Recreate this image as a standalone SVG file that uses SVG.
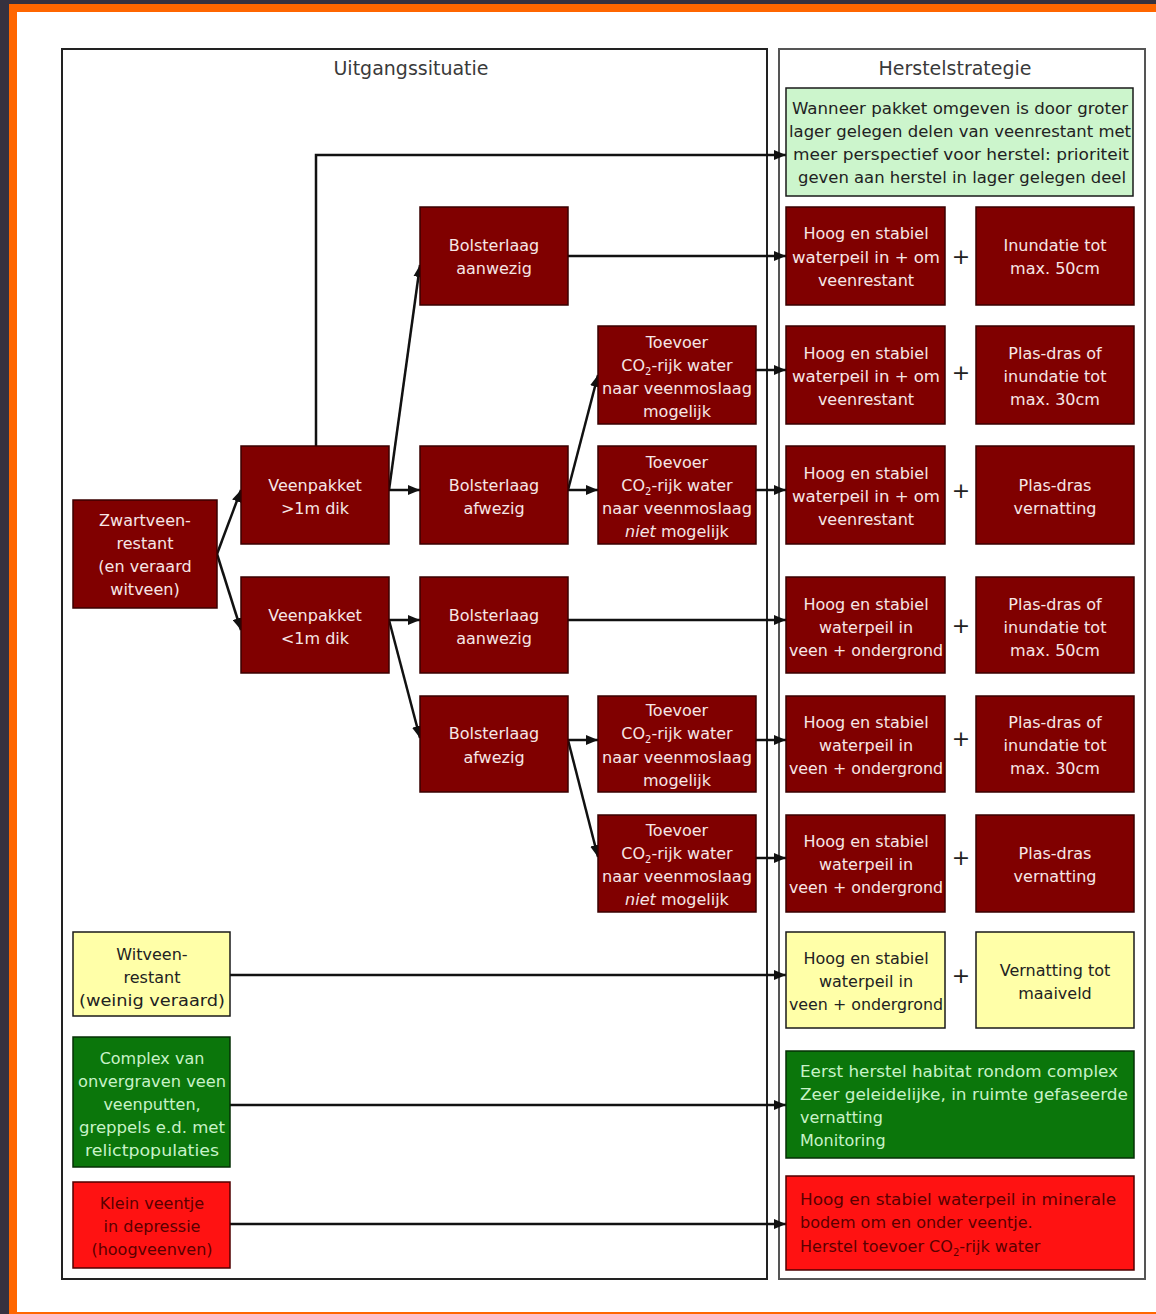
<svg xmlns="http://www.w3.org/2000/svg" width="1156" height="1314" viewBox="0 0 1156 1314">
<style>
.nr{fill:#800000;stroke:#3a0000;stroke-width:1.5}
.ny{fill:#ffffa8;stroke:#1a1a1a;stroke-width:1.5}
.ng{fill:#0b760b;stroke:#063006;stroke-width:1.5}
.nl{fill:#ccf5cc;stroke:#1a1a1a;stroke-width:1.5}
.nx{fill:#ff1212;stroke:#500000;stroke-width:1.5}
.t{font-family:"DejaVu Sans",sans-serif;font-size:16px;text-anchor:middle}
.tl{font-family:"DejaVu Sans",sans-serif;font-size:16px;text-anchor:start}
.tw{fill:#f6e6e6}
.tk{fill:#222}
.tg{fill:#c8f2c8}
.tr{fill:#5a0000}
.h{font-family:"DejaVu Sans",sans-serif;font-size:19px;fill:#3a3a3a;text-anchor:middle}
.p{font-family:"DejaVu Sans",sans-serif;font-size:22px;fill:#222;text-anchor:middle}
.c{fill:none;stroke:#111;stroke-width:2.5}
.pan{fill:#fff;stroke:#222;stroke-width:2}
</style>
<defs>
<marker id="ah" markerUnits="userSpaceOnUse" markerWidth="12" markerHeight="10" viewBox="0 0 12 10" refX="12" refY="5" orient="auto">
<path d="M0,0 L12,5 L0,10 z" fill="#111"/>
</marker>
</defs>
<rect x="0" y="0" width="1156" height="1314" fill="#36313f"/>
<rect x="9" y="4" width="1147" height="1310" fill="#ff6600"/>
<rect x="17" y="12" width="1139" height="1300" fill="#fff"/>
<g id="panels">
<rect class="pan" x="62" y="49" width="705" height="1230"/>
<rect class="pan" x="779" y="49" width="366" height="1230" style="stroke:#555"/>
<text class="h" x="411" y="75">Uitgangssituatie</text>
<text class="h" x="955" y="75">Herstelstrategie</text>
</g>
<g id="connectors">
<path class="c" d="M316,446 V155 H786" marker-end="url(#ah)"/>
<path class="c" d="M217,554 L241,490" marker-end="url(#ah)"/>
<path class="c" d="M217,554 L241,630" marker-end="url(#ah)"/>
<path class="c" d="M389,490 L420,490" marker-end="url(#ah)"/>
<path class="c" d="M389,490 L420,265" marker-end="url(#ah)"/>
<path class="c" d="M568,256 L786,256" marker-end="url(#ah)"/>
<path class="c" d="M568,490 L598,490" marker-end="url(#ah)"/>
<path class="c" d="M568,490 L598,375" marker-end="url(#ah)"/>
<path class="c" d="M756,370 L786,370" marker-end="url(#ah)"/>
<path class="c" d="M756,490 L786,490" marker-end="url(#ah)"/>
<path class="c" d="M389,620 L420,620" marker-end="url(#ah)"/>
<path class="c" d="M389,620 L420,738" marker-end="url(#ah)"/>
<path class="c" d="M568,620 L786,620" marker-end="url(#ah)"/>
<path class="c" d="M568,740 L598,740" marker-end="url(#ah)"/>
<path class="c" d="M568,740 L598,857" marker-end="url(#ah)"/>
<path class="c" d="M756,740 L786,740" marker-end="url(#ah)"/>
<path class="c" d="M756,858 L786,858" marker-end="url(#ah)"/>
<path class="c" d="M230,975 L786,975" marker-end="url(#ah)"/>
<path class="c" d="M230,1105 L786,1105" marker-end="url(#ah)"/>
<path class="c" d="M230,1224 L786,1224" marker-end="url(#ah)"/>
</g>
<g id="zwartveen">
<rect class="nr" x="73" y="500" width="144" height="108"/>
<text class="t tw" x="145" y="526">Zwartveen-</text>
<text class="t tw" x="145" y="549">restant</text>
<text class="t tw" x="145" y="572">(en veraard</text>
<text class="t tw" x="145" y="595">witveen)</text>
</g>
<g id="veenpakket-dik">
<rect class="nr" x="241" y="446" width="148" height="98"/>
<text class="t tw" x="315" y="491">Veenpakket</text>
<text class="t tw" x="315" y="514">&gt;1m dik</text>
</g>
<g id="veenpakket-dun">
<rect class="nr" x="241" y="577" width="148" height="96"/>
<text class="t tw" x="315" y="621">Veenpakket</text>
<text class="t tw" x="315" y="644">&lt;1m dik</text>
</g>
<g id="bolster-aanwezig-1">
<rect class="nr" x="420" y="207" width="148" height="98"/>
<text class="t tw" x="494" y="251">Bolsterlaag</text>
<text class="t tw" x="494" y="274">aanwezig</text>
</g>
<g id="bolster-afwezig-1">
<rect class="nr" x="420" y="446" width="148" height="98"/>
<text class="t tw" x="494" y="491">Bolsterlaag</text>
<text class="t tw" x="494" y="514">afwezig</text>
</g>
<g id="bolster-aanwezig-2">
<rect class="nr" x="420" y="577" width="148" height="96"/>
<text class="t tw" x="494" y="621">Bolsterlaag</text>
<text class="t tw" x="494" y="644">aanwezig</text>
</g>
<g id="bolster-afwezig-2">
<rect class="nr" x="420" y="696" width="148" height="96"/>
<text class="t tw" x="494" y="739">Bolsterlaag</text>
<text class="t tw" x="494" y="763">afwezig</text>
</g>
<g id="toevoer-1">
<rect class="nr" x="598" y="326" width="158" height="98"/>
<text class="t tw" x="677" y="348">Toevoer</text>
<text class="t tw" x="677" y="371">CO<tspan font-size="10" dy="4">2</tspan><tspan dy="-4">-rijk water</tspan></text>
<text class="t tw" x="677" y="394" textLength="150" lengthAdjust="spacingAndGlyphs">naar veenmoslaag</text>
<text class="t tw" x="677" y="417">mogelijk</text>
</g>
<g id="toevoer-2">
<rect class="nr" x="598" y="446" width="158" height="98"/>
<text class="t tw" x="677" y="468">Toevoer</text>
<text class="t tw" x="677" y="491">CO<tspan font-size="10" dy="4">2</tspan><tspan dy="-4">-rijk water</tspan></text>
<text class="t tw" x="677" y="514" textLength="150" lengthAdjust="spacingAndGlyphs">naar veenmoslaag</text>
<text class="t tw" x="677" y="537"><tspan font-style="italic">niet</tspan> mogelijk</text>
</g>
<g id="toevoer-3">
<rect class="nr" x="598" y="696" width="158" height="96"/>
<text class="t tw" x="677" y="716">Toevoer</text>
<text class="t tw" x="677" y="739">CO<tspan font-size="10" dy="4">2</tspan><tspan dy="-4">-rijk water</tspan></text>
<text class="t tw" x="677" y="763" textLength="150" lengthAdjust="spacingAndGlyphs">naar veenmoslaag</text>
<text class="t tw" x="677" y="786">mogelijk</text>
</g>
<g id="toevoer-4">
<rect class="nr" x="598" y="815" width="158" height="97"/>
<text class="t tw" x="677" y="836">Toevoer</text>
<text class="t tw" x="677" y="859">CO<tspan font-size="10" dy="4">2</tspan><tspan dy="-4">-rijk water</tspan></text>
<text class="t tw" x="677" y="882" textLength="150" lengthAdjust="spacingAndGlyphs">naar veenmoslaag</text>
<text class="t tw" x="677" y="905"><tspan font-style="italic">niet</tspan> mogelijk</text>
</g>
<g id="witveen">
<rect class="ny" x="73" y="932" width="157" height="84"/>
<text class="t tk" x="152" y="960">Witveen-</text>
<text class="t tk" x="152" y="983">restant</text>
<text class="t tk" x="152" y="1006" textLength="146" lengthAdjust="spacingAndGlyphs">(weinig veraard)</text>
</g>
<g id="complex">
<rect class="ng" x="73" y="1037" width="157" height="130"/>
<text class="t tg" x="152" y="1064">Complex van</text>
<text class="t tg" x="152" y="1087" textLength="148" lengthAdjust="spacingAndGlyphs">onvergraven veen</text>
<text class="t tg" x="152" y="1110">veenputten,</text>
<text class="t tg" x="152" y="1133" textLength="146" lengthAdjust="spacingAndGlyphs">greppels e.d. met</text>
<text class="t tg" x="152" y="1156" textLength="134" lengthAdjust="spacingAndGlyphs">relictpopulaties</text>
</g>
<g id="klein-veentje">
<rect class="nx" x="73" y="1182" width="157" height="86"/>
<text class="t tr" x="152" y="1209">Klein veentje</text>
<text class="t tr" x="152" y="1232">in depressie</text>
<text class="t tr" x="152" y="1255">(hoogveenven)</text>
</g>
<g id="prioriteit">
<rect class="nl" x="786" y="88" width="347" height="108"/>
<text class="t tk" x="960" y="114" textLength="336" lengthAdjust="spacingAndGlyphs">Wanneer pakket omgeven is door groter</text>
<text class="t tk" x="960" y="137" textLength="342" lengthAdjust="spacingAndGlyphs">lager gelegen delen van veenrestant met</text>
<text class="t tk" x="961" y="160" textLength="336" lengthAdjust="spacingAndGlyphs">meer perspectief voor herstel: prioriteit</text>
<text class="t tk" x="962" y="183" textLength="328" lengthAdjust="spacingAndGlyphs">geven aan herstel in lager gelegen deel</text>
</g>
<g id="hoog-1">
<rect class="nr" x="786" y="207" width="159" height="98"/>
<text class="t tw" x="866" y="239">Hoog en stabiel</text>
<text class="t tw" x="866" y="263" textLength="148" lengthAdjust="spacingAndGlyphs">waterpeil in + om</text>
<text class="t tw" x="866" y="286">veenrestant</text>
</g>
<text class="p" x="961" y="264">+</text>
<g id="inundatie-50">
<rect class="nr" x="976" y="207" width="158" height="98"/>
<text class="t tw" x="1055" y="251">Inundatie tot</text>
<text class="t tw" x="1055" y="274">max. 50cm</text>
</g>
<g id="hoog-2">
<rect class="nr" x="786" y="326" width="159" height="98"/>
<text class="t tw" x="866" y="359">Hoog en stabiel</text>
<text class="t tw" x="866" y="382" textLength="148" lengthAdjust="spacingAndGlyphs">waterpeil in + om</text>
<text class="t tw" x="866" y="405">veenrestant</text>
</g>
<text class="p" x="961" y="380">+</text>
<g id="plasdras-30-1">
<rect class="nr" x="976" y="326" width="158" height="98"/>
<text class="t tw" x="1055" y="359">Plas-dras of</text>
<text class="t tw" x="1055" y="382">inundatie tot</text>
<text class="t tw" x="1055" y="405">max. 30cm</text>
</g>
<g id="hoog-3">
<rect class="nr" x="786" y="446" width="159" height="98"/>
<text class="t tw" x="866" y="479">Hoog en stabiel</text>
<text class="t tw" x="866" y="502" textLength="148" lengthAdjust="spacingAndGlyphs">waterpeil in + om</text>
<text class="t tw" x="866" y="525">veenrestant</text>
</g>
<text class="p" x="961" y="498">+</text>
<g id="plasdras-vernatting-1">
<rect class="nr" x="976" y="446" width="158" height="98"/>
<text class="t tw" x="1055" y="491">Plas-dras</text>
<text class="t tw" x="1055" y="514">vernatting</text>
</g>
<g id="hoog-4">
<rect class="nr" x="786" y="577" width="159" height="96"/>
<text class="t tw" x="866" y="610">Hoog en stabiel</text>
<text class="t tw" x="866" y="633">waterpeil in</text>
<text class="t tw" x="866" y="656" textLength="154" lengthAdjust="spacingAndGlyphs">veen + ondergrond</text>
</g>
<text class="p" x="961" y="633">+</text>
<g id="plasdras-50">
<rect class="nr" x="976" y="577" width="158" height="96"/>
<text class="t tw" x="1055" y="610">Plas-dras of</text>
<text class="t tw" x="1055" y="633">inundatie tot</text>
<text class="t tw" x="1055" y="656">max. 50cm</text>
</g>
<g id="hoog-5">
<rect class="nr" x="786" y="696" width="159" height="96"/>
<text class="t tw" x="866" y="728">Hoog en stabiel</text>
<text class="t tw" x="866" y="751">waterpeil in</text>
<text class="t tw" x="866" y="774" textLength="154" lengthAdjust="spacingAndGlyphs">veen + ondergrond</text>
</g>
<text class="p" x="961" y="746">+</text>
<g id="plasdras-30-2">
<rect class="nr" x="976" y="696" width="158" height="96"/>
<text class="t tw" x="1055" y="728">Plas-dras of</text>
<text class="t tw" x="1055" y="751">inundatie tot</text>
<text class="t tw" x="1055" y="774">max. 30cm</text>
</g>
<g id="hoog-6">
<rect class="nr" x="786" y="815" width="159" height="97"/>
<text class="t tw" x="866" y="847">Hoog en stabiel</text>
<text class="t tw" x="866" y="870">waterpeil in</text>
<text class="t tw" x="866" y="893" textLength="154" lengthAdjust="spacingAndGlyphs">veen + ondergrond</text>
</g>
<text class="p" x="961" y="865">+</text>
<g id="plasdras-vernatting-2">
<rect class="nr" x="976" y="815" width="158" height="97"/>
<text class="t tw" x="1055" y="859">Plas-dras</text>
<text class="t tw" x="1055" y="882">vernatting</text>
</g>
<g id="hoog-7">
<rect class="ny" x="786" y="932" width="159" height="96"/>
<text class="t tk" x="866" y="964">Hoog en stabiel</text>
<text class="t tk" x="866" y="987">waterpeil in</text>
<text class="t tk" x="866" y="1010" textLength="154" lengthAdjust="spacingAndGlyphs">veen + ondergrond</text>
</g>
<text class="p" x="961" y="983">+</text>
<g id="vernatting-maaiveld">
<rect class="ny" x="976" y="932" width="158" height="96"/>
<text class="t tk" x="1055" y="976">Vernatting tot</text>
<text class="t tk" x="1055" y="999">maaiveld</text>
</g>
<g id="herstel-complex">
<rect class="ng" x="786" y="1051" width="348" height="107"/>
<text class="tl tg" x="800" y="1077" textLength="318" lengthAdjust="spacingAndGlyphs">Eerst herstel habitat rondom complex</text>
<text class="tl tg" x="800" y="1100" textLength="328" lengthAdjust="spacingAndGlyphs">Zeer geleidelijke, in ruimte gefaseerde</text>
<text class="tl tg" x="800" y="1123">vernatting</text>
<text class="tl tg" x="800" y="1146">Monitoring</text>
</g>
<g id="herstel-veentje">
<rect class="nx" x="786" y="1176" width="348" height="94"/>
<text class="tl tr" x="800" y="1205" textLength="316" lengthAdjust="spacingAndGlyphs">Hoog en stabiel waterpeil in minerale</text>
<text class="tl tr" x="800" y="1228">bodem om en onder veentje.</text>
<text class="tl tr" x="800" y="1252">Herstel toevoer CO<tspan font-size="10" dy="4">2</tspan><tspan dy="-4">-rijk water</tspan></text>
</g>
</svg>
